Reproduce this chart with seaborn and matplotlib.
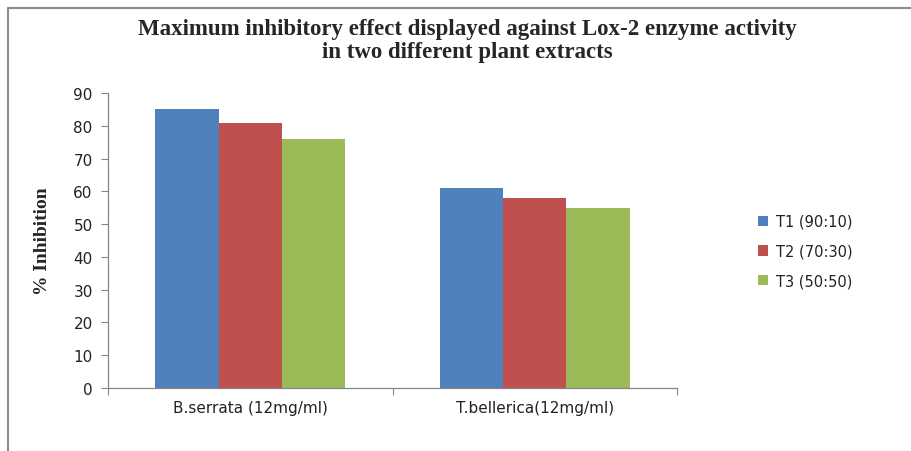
import matplotlib
matplotlib.use("Agg")
import matplotlib.pyplot as plt
import seaborn as sns
import pandas as pd
from matplotlib.lines import Line2D

categories = ["B.serrata (12mg/ml)", "T.bellerica(12mg/ml)"]
series = ["T1 (90:10)", "T2 (70:30)", "T3 (50:50)"]
t1 = [85, 61]
t2 = [81, 58]
t3 = [76, 55]
colors = ["#4F81BD", "#C0504D", "#9BBB59"]

rows = []
for s, vals in zip(series, [t1, t2, t3]):
    for c, v in zip(categories, vals):
        rows.append({"Extract": c, "Treatment": s, "Inhibition": v})
df = pd.DataFrame(rows)

sns.set_style("white")
plt.rcParams["font.family"] = ["DejaVu Sans"]

fig = plt.figure(figsize=(9.11, 4.52), dpi=100)
ax = fig.add_axes([108/911, 1-389/452, (677-108)/911, (389-94)/452])

sns.barplot(data=df, x="Extract", y="Inhibition", hue="Treatment",
            palette=colors, width=0.667, saturation=1, ax=ax,
            errorbar=None, legend=True, linewidth=0)

ax.set_xlim(-0.5, 1.5)
ax.set_ylim(0, 90)
ax.set_yticks(range(0, 91, 10))
ax.set_xticks([-0.5, 0.5, 1.5])
ax.set_xticklabels([])
ax.set_xticks([0, 1], minor=True)
ax.set_xticklabels(categories, minor=True)
ax.tick_params(axis="x", which="major", length=5, color="#868686", direction="out", bottom=True)
ax.tick_params(axis="x", which="minor", length=0, pad=9, labelsize=11, labelcolor="#222222")
ax.tick_params(axis="y", length=5, color="#868686", direction="out", left=True, labelsize=11, labelcolor="#222222", pad=6)

for sp in ["top", "right"]:
    ax.spines[sp].set_visible(False)
for sp in ["left", "bottom"]:
    ax.spines[sp].set_color("#868686")
    ax.spines[sp].set_linewidth(0.9)

ax.set_xlabel("")
ax.set_ylabel("% Inhibition", fontfamily="Liberation Serif", fontweight="bold", fontsize=14, labelpad=16)

handles, labels = ax.get_legend_handles_labels()
ax.legend(handles, labels, loc="center left", bbox_to_anchor=(745/911, 1-252/452),
          bbox_transform=fig.transFigure, frameon=False, fontsize=10.5,
          handlelength=0.7, handleheight=0.7, handletextpad=0.5, labelspacing=1.0,
          labelcolor="#222222")

fig.text(467/911, 1-41/452, "Maximum inhibitory effect displayed against Lox-2 enzyme activity\nin two different plant extracts",
         ha="center", va="center", fontfamily="Liberation Serif", fontweight="bold", fontsize=16.5, linespacing=1.1)

fig.add_artist(Line2D([8/911, 1], [1-9/452, 1-9/452], transform=fig.transFigure, color="#8c8c8c", lw=1.5))
fig.add_artist(Line2D([8/911, 8/911], [0, 1-9/452], transform=fig.transFigure, color="#8c8c8c", lw=1.5))

fig.savefig("out.png", dpi=100)
